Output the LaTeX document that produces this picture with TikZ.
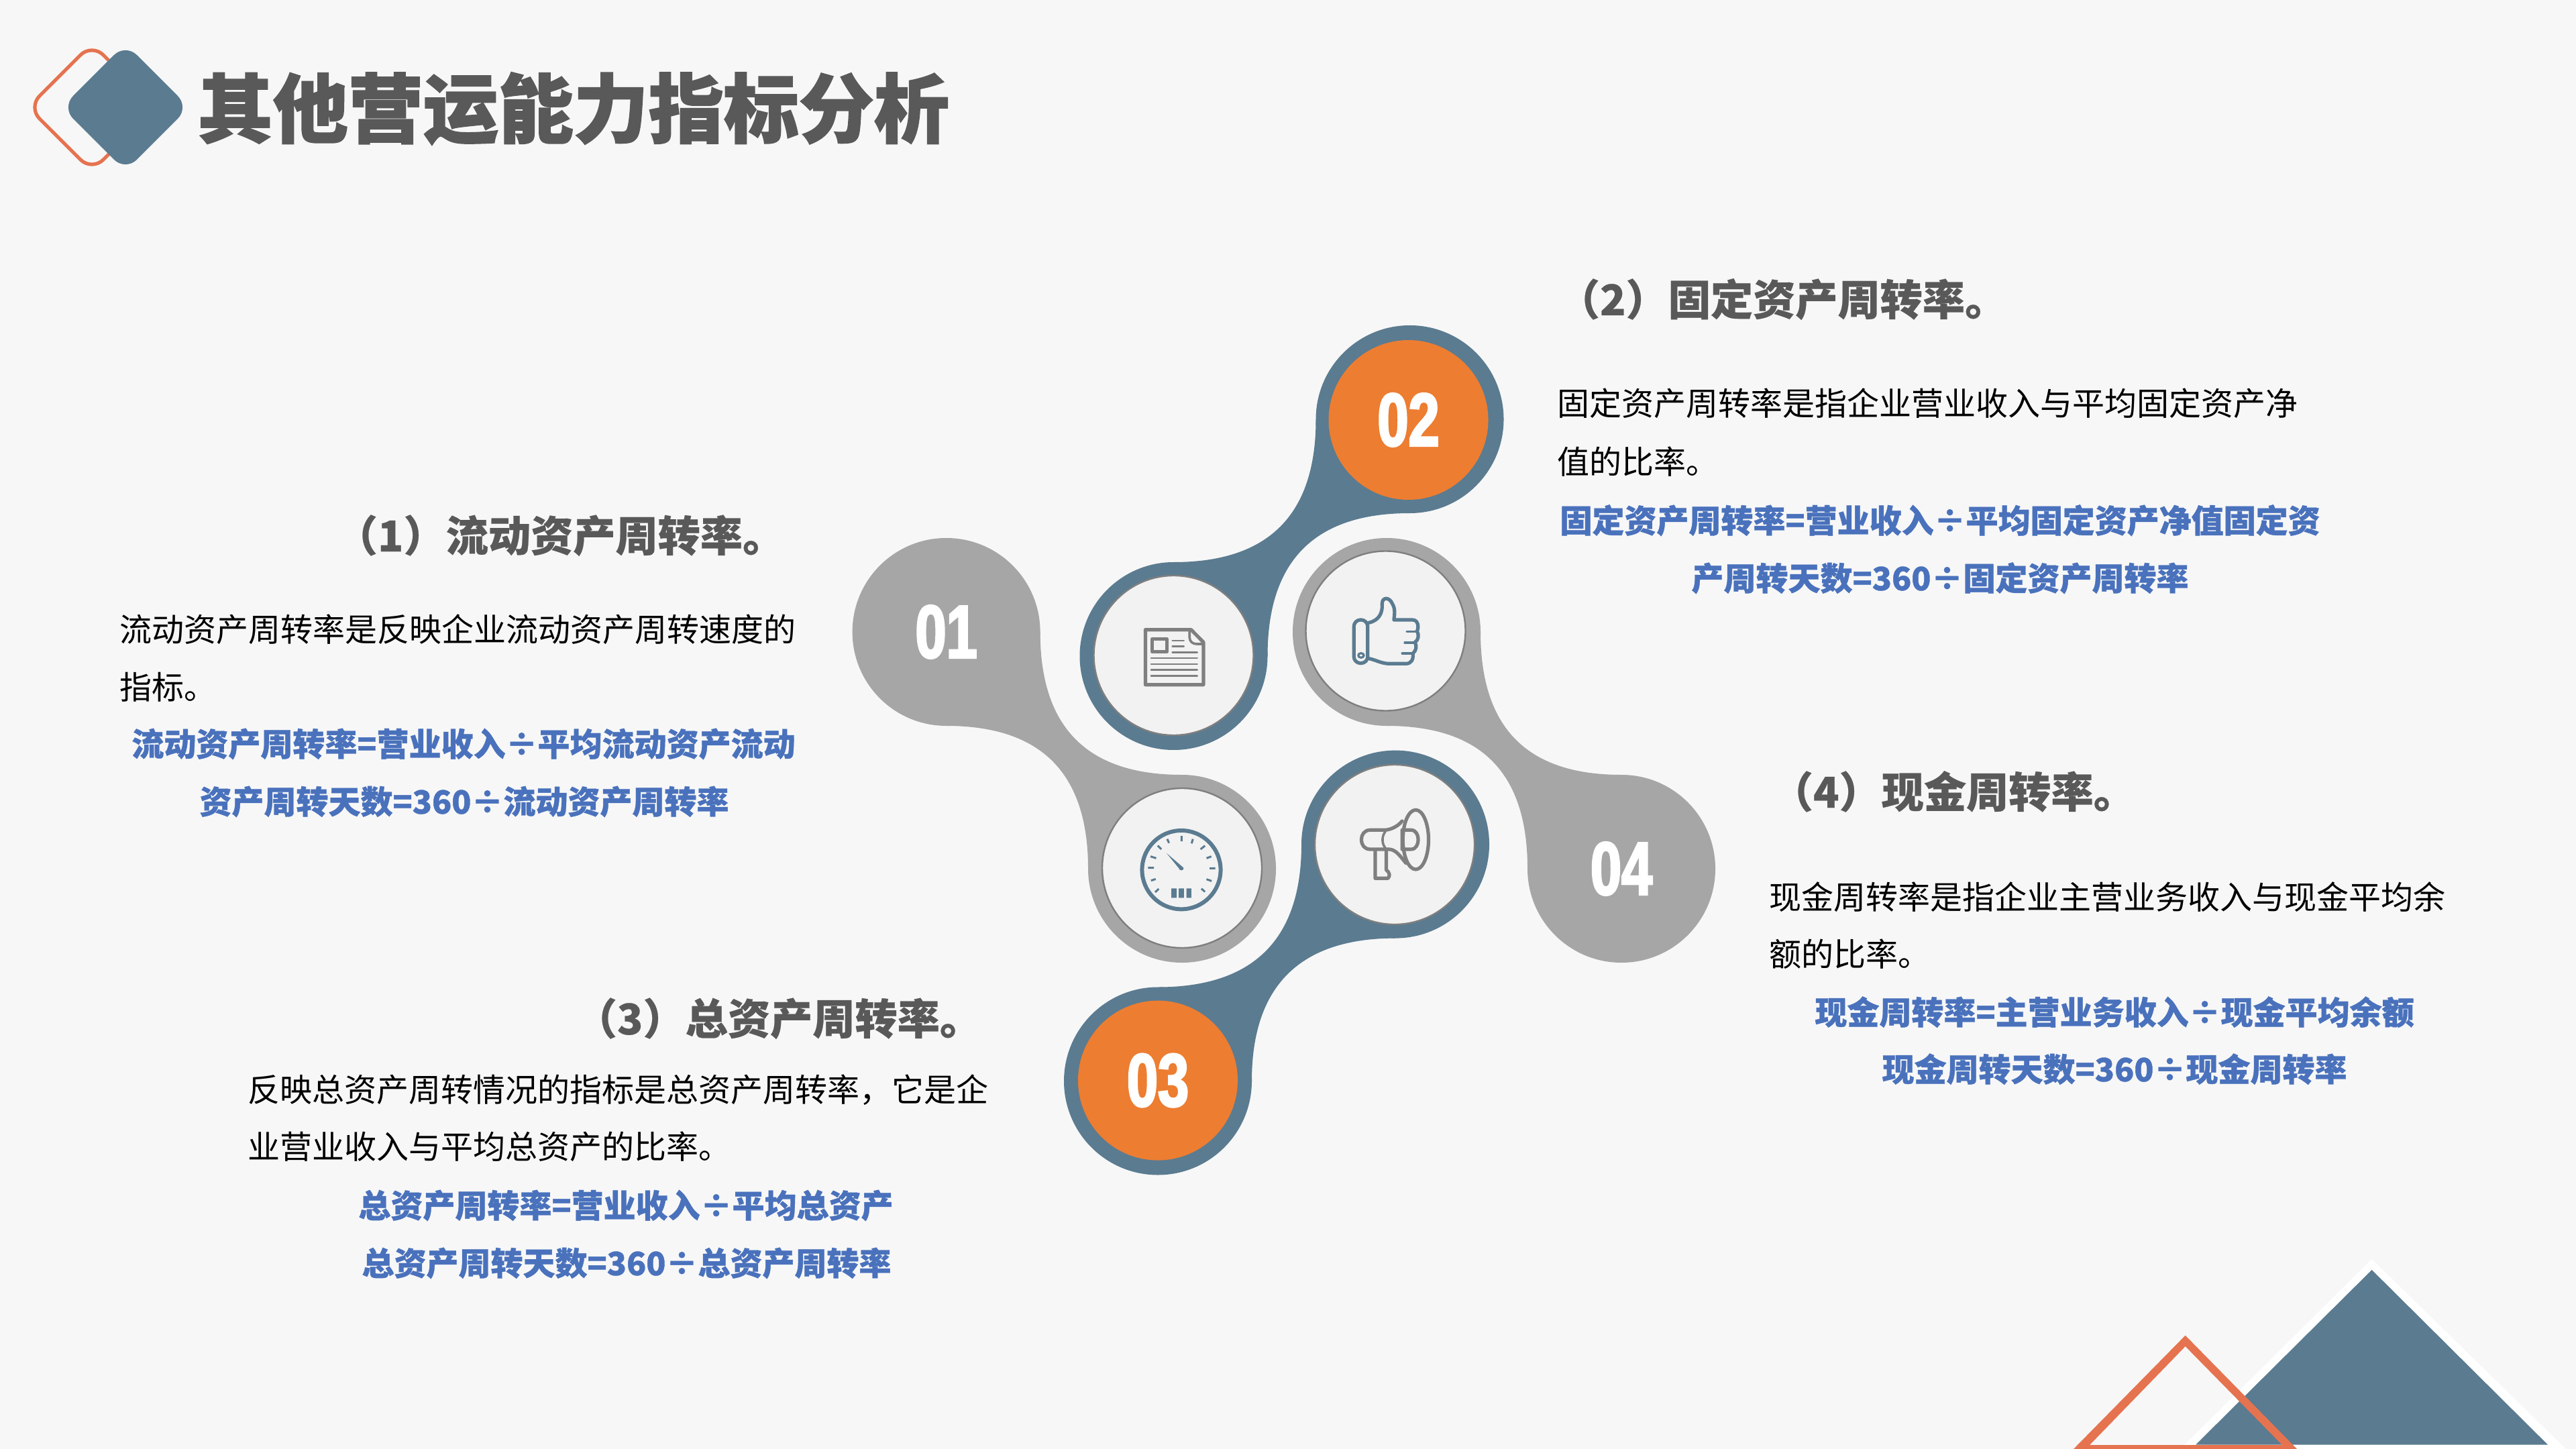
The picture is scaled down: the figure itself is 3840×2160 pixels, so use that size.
\documentclass[tikz,border=0pt]{standalone}
\usepackage{fontspec}
\usetikzlibrary{calc}
\setmainfont{Noto Sans CJK SC}
\newfontfamily\titlefont{Noto Sans CJK SC}[BoldFeatures={FakeBold=1.6}]
\newfontfamily\headfont{Noto Sans CJK SC}[BoldFeatures={FakeBold=0.4}]
\newfontfamily\bluefont{Noto Sans CJK SC}[BoldFeatures={FakeBold=0.8}]
\newfontfamily\numfont{Liberation Sans}[FakeStretch=0.74,BoldFeatures={FakeBold=2.6}]
\definecolor{pageC}{HTML}{F7F7F7}
\definecolor{slate}{HTML}{5A7B90}
\definecolor{greyC}{HTML}{A6A6A6}
\definecolor{orangeC}{HTML}{ED7D31}
\definecolor{redC}{HTML}{E6734F}
\definecolor{innerC}{HTML}{F2F2F2}
\definecolor{iconC}{HTML}{7F7F7F}
\definecolor{headC}{HTML}{595959}
\definecolor{blueC}{HTML}{4A72BC}
\tikzset{
 blob/.style={circle,minimum size=70pt,inner sep=0pt,outer sep=0pt,fill=#1},
 disc/.style={circle,minimum size=59.5pt,inner sep=0pt,outer sep=0pt,fill=innerC,draw=iconC,line width=.6pt},
 orangedisc/.style={circle,minimum size=59.5pt,inner sep=0pt,outer sep=0pt,fill=orangeC},
 numlabel/.style={font=\numfont\bfseries\fontsize{28}{28}\selectfont,text=white,inner sep=0pt},
 bodytext/.style={anchor=west,inner sep=0pt,text=black,font=\fontsize{12}{12}\selectfont,text height=10.5pt,text depth=1.5pt},
 headtext/.style={anchor=west,inner sep=0pt,text=headC,font=\headfont\bfseries\fontsize{15.8}{15.8}\selectfont,text height=13.9pt,text depth=1.9pt},
 formula/.style={anchor=center,inner sep=0pt,text=blueC,font=\bluefont\bfseries\fontsize{12}{12}\selectfont,text height=10.5pt,text depth=1.5pt},
 iconscope/.style={x=0.09567pt,y=-0.08333pt},
 strokeG/.style={draw=iconC,line width=1.3pt,line join=round,line cap=round},
 strokeB/.style={draw=slate,line width=1.3pt,line join=round,line cap=round},
}
\begin{document}
\begin{tikzpicture}[x=0.25pt,y=-0.25pt]
\useasboundingbox (0,0) rectangle (3840,2160);
\fill[pageC] (0,0) rectangle (3840,2160);
% logo
\draw[redC,line width=1.3pt,rounded corners=6pt] (137,65) -- (232,160) -- (137,255) -- (42,160) -- cycle;
\fill[slate,rounded corners=6pt] (187,65) -- (282,160) -- (187,255) -- (92,160) -- cycle;
\node[anchor=west,inner sep=0pt,text=headC,font=\titlefont\bfseries\fontsize{28}{28}\selectfont] (title) at (294,162) {其他营运能力指标分析};
% triangles
\fill[white] (3535.6,1877) -- (3825,2160) -- (3250,2160) -- cycle;
\fill[slate] (3535.6,1893) -- (3798,2153.7) -- (3273,2153.7) -- cycle;
\fill[redC,even odd rule] (3257.6,1990.7) -- (3424,2160) -- (3091,2160) -- cycle
  (3257.6,2007) -- (3402,2154) -- (3115,2154) -- cycle;
% blobs
\node[blob=greyC] (n01) at (1410.6,942) {};
\node[blob=greyC] (ngauge) at (1762,1295) {};
\node[blob=greyC] (nthumb) at (2067,942) {};
\node[blob=greyC] (n04) at (2417,1295) {};
\node[blob=slate] (n02) at (2101.5,625) {};
\node[blob=slate] (ndoc) at (1749.5,978) {};
\node[blob=slate] (nmega) at (2080,1258.6) {};
\node[blob=slate] (n03) at (1726,1611.5) {};
% connectors
\fill[greyC] (n01.east) .. controls ($(n01.east)+(0,142)$) and ($(ngauge.north)+(-142,0)$) .. (ngauge.north)
  -- (ngauge.center) -- (ngauge.west) .. controls ($(ngauge.west)+(0,-142)$) and ($(n01.south)+(142,0)$) .. (n01.south) -- (n01.center) -- cycle;
\fill[greyC] (nthumb.east) .. controls ($(nthumb.east)+(0,142)$) and ($(n04.north)+(-142,0)$) .. (n04.north)
  -- (n04.center) -- (n04.west) .. controls ($(n04.west)+(0,-142)$) and ($(nthumb.south)+(142,0)$) .. (nthumb.south) -- (nthumb.center) -- cycle;
\fill[slate] (n02.west) .. controls ($(n02.west)+(0,142)$) and ($(ndoc.north)+(142,0)$) .. (ndoc.north)
  -- (ndoc.center) -- (ndoc.east) .. controls ($(ndoc.east)+(0,-142)$) and ($(n02.south)+(-142,0)$) .. (n02.south) -- (n02.center) -- cycle;
\fill[slate] (nmega.west) .. controls ($(nmega.west)+(0,142)$) and ($(n03.north)+(142,0)$) .. (n03.north)
  -- (n03.center) -- (n03.east) .. controls ($(n03.east)+(0,-142)$) and ($(nmega.south)+(-142,0)$) .. (nmega.south) -- (nmega.center) -- cycle;
% inner discs
\node[disc] (ddoc) at (1749.5,977) {};
\node[disc] (dthumb) at (2065.5,940.5) {};
\node[disc] (dgauge) at (1762,1294) {};
\node[disc] (dmega) at (2079,1259) {};
\node[orangedisc] (o02) at (2099.5,626) {};
\node[orangedisc] (o03) at (1726,1610.6) {};
% numbers
\node[numlabel] (l01) at (n01) {01};
\node[numlabel] (l02) at (o02) {02};
\node[numlabel] (l03) at (o03) {03};
\node[numlabel] (l04) at (n04) {04};
% icon: document and thumb (crop coordinates)
\begin{scope}[shift={(1650,850)},iconscope]
 \draw[strokeG] (150,266) -- (328,266) -- (376,322) -- (376,512) -- (150,512) -- cycle;
 \draw[strokeG,line width=.9pt] (322,272) -- (322,300) .. controls (322,320) and (335,330) .. (350,330) -- (376,330);
 \draw[strokeG] (177,308) rectangle (233,365);
 \draw[strokeG,line width=.65pt]
   (255,315) -- (300,315) (255,341) -- (300,341) (255,367) -- (352,367)
   (172,393) -- (352,393) (172,420) -- (352,420) (172,446) -- (352,446) (172,472) -- (352,472);
 % thumb
 \draw[strokeB,rounded corners=2.5pt] (962,222) rectangle (1016,416);
 \draw[strokeB,line width=.8pt] (990,381) circle [x radius=11,y radius=10];
 \draw[strokeB] (1020,235) .. controls (1060,225) and (1075,190) .. (1072,150)
   .. controls (1072,120) and (1100,118) .. (1112,150)
   .. controls (1125,175) and (1120,200) .. (1118,222) -- (1190,222)
   .. controls (1215,222) and (1215,260) .. (1208,272)
   .. controls (1218,290) and (1212,315) .. (1200,322)
   .. controls (1208,340) and (1205,360) .. (1192,372)
   .. controls (1195,400) and (1185,418) .. (1165,418) -- (1100,418)
   .. controls (1070,418) and (1045,400) .. (1020,395);
 \draw[strokeB,line width=.8pt] (1168,274) -- (1205,274) (1160,324) -- (1200,324) (1150,372) -- (1192,372);
\end{scope}
% icon: gauge and megaphone
\begin{scope}[shift={(1650,1150)},iconscope]
 \draw[strokeB,line width=1.5pt] (290,440) ellipse [x radius=153,y radius=176];
 \draw[strokeB,line width=.75pt,line cap=butt]
  (160,431) -- (183,431) (170,380) -- (192,388) (198,332) -- (212,348) (235,302) -- (242,320)
  (291,288) -- (291,312) (335,302) -- (330,322) (382,332) -- (365,348) (407,380) -- (388,388)
  (422,433) -- (400,433) (408,490) -- (388,482) (382,538) -- (368,524) (172,488) -- (190,481) (188,540) -- (202,525);
 \fill[slate] (232,365) -- (296,428) -- (284,438) -- cycle;
 \fill[slate] (290,434) ellipse [x radius=9,y radius=8];
 \fill[slate] (251,523) rectangle (272,565) (280,523) rectangle (300,565) (310,523) rectangle (329,565);
 % megaphone
 \draw[strokeG] (1203,305) ellipse [x radius=50,y radius=133];
 \draw[strokeG] (1150,222) .. controls (1130,250) and (1100,262) .. (1080,262) -- (1025,262)
   .. controls (980,262) and (980,348) .. (1025,348) -- (1100,348) .. controls (1125,350) and (1140,375) .. (1165,410);
 \draw[strokeG,line width=.9pt] (1085,268) .. controls (1070,290) and (1070,322) .. (1085,343);
 \draw[strokeG] (1150,262) -- (1185,262) .. controls (1222,262) and (1222,348) .. (1185,348) -- (1150,348) -- cycle;
 \draw[strokeG] (1045,350) -- (1045,478) -- (1095,478) .. controls (1105,465) and (1100,450) .. (1088,440) -- (1088,350);
\end{scope}
% section 1
\node[headtext] (h1) at (499,798) {（1）流动资产周转率。};
\node[bodytext] (b1a) at (178,938) {流动资产周转率是反映企业流动资产周转速度的};
\node[bodytext] (b1b) at (178,1024) {指标。};
\node[formula] (f1a) at (691,1109) {流动资产周转率=营业收入÷平均流动资产流动};
\node[formula] (f1b) at (692,1195) {资产周转天数=360÷流动资产周转率};
% section 2
\node[headtext] (h2) at (2321,446) {（2）固定资产周转率。};
\node[bodytext] (b2a) at (2321,602) {固定资产周转率是指企业营业收入与平均固定资产净};
\node[bodytext] (b2b) at (2321,688) {值的比率。};
\node[formula] (f2a) at (2892,776) {固定资产周转率=营业收入÷平均固定资产净值固定资};
\node[formula] (f2b) at (2892,862) {产周转天数=360÷固定资产周转率};
% section 3
\node[headtext] (h3) at (856,1518) {（3）总资产周转率。};
\node[bodytext] (b3a) at (369,1624) {反映总资产周转情况的指标是总资产周转率，它是企};
\node[bodytext] (b3b) at (369,1709) {业营业收入与平均总资产的比率。};
\node[formula] (f3a) at (933,1797) {总资产周转率=营业收入÷平均总资产};
\node[formula] (f3b) at (934,1883) {总资产周转天数=360÷总资产周转率};
% section 4
\node[headtext] (h4) at (2639,1180) {（4）现金周转率。};
\node[bodytext] (b4a) at (2637,1337) {现金周转率是指企业主营业务收入与现金平均余};
\node[bodytext] (b4b) at (2637,1422) {额的比率。};
\node[formula] (f4a) at (3152,1509) {现金周转率=主营业务收入÷现金平均余额};
\node[formula] (f4b) at (3152,1594) {现金周转天数=360÷现金周转率};
\end{tikzpicture}
\end{document}
